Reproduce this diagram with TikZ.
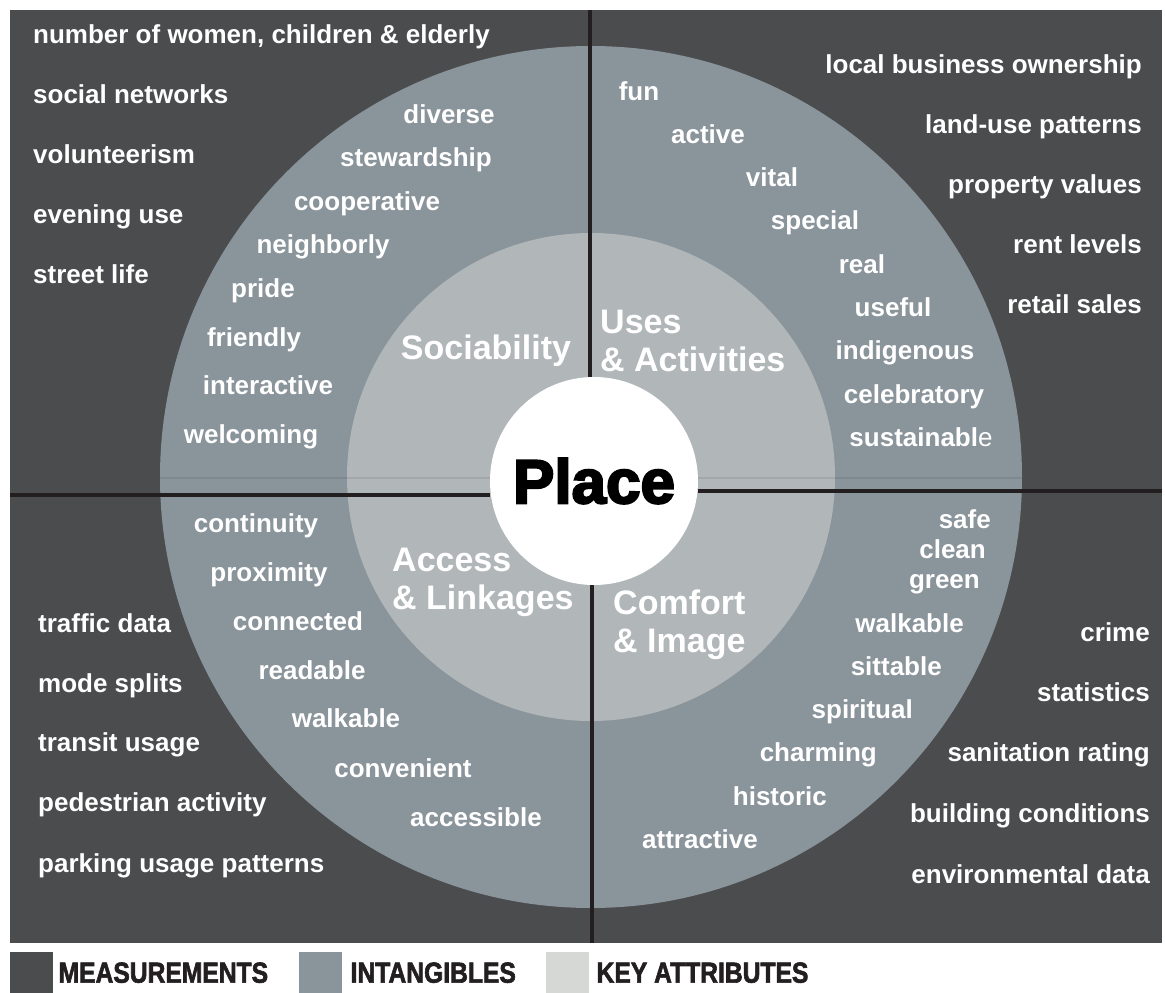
\documentclass[tikz,border=0pt]{standalone}
\usepackage{fontspec}
\setmainfont{Liberation Sans}
\newfontfamily\legendfont{Liberation Sans}[FakeStretch=0.85,FakeBold=2]
\newfontfamily\placefont{Liberation Sans}[FakeBold=3.5]
\usetikzlibrary{positioning}

\definecolor{measure}{HTML}{4B4C4E}
\definecolor{intang}{HTML}{8A949B}
\definecolor{keyattr}{HTML}{B1B6B9}
\definecolor{keylegend}{HTML}{D5D8D5}
\definecolor{divider}{HTML}{231F20}

\begin{document}
\begin{tikzpicture}[x=1pt,y=-1pt,
    word/.style={text=white, inner sep=0, text height=18, text depth=6,
        font=\bfseries\fontsize{26}{30}\selectfont},
    attr/.style={text=white, inner sep=0, align=left,
        font=\bfseries\fontsize{34}{38}\selectfont},
    divline/.style={draw=divider, line width=4},
    legendbox/.style={minimum width=43, minimum height=41, inner sep=0},
    legendtext/.style={inner sep=0, text=divider,
        font=\legendfont\bfseries\fontsize{29}{29}\selectfont}]

    \useasboundingbox (0,0) rectangle (1165,993);
    \fill[white] (0,0) rectangle (1165,993);
    \fill[measure] (10,10) rectangle (1162,943);

    % rings
    \fill[intang] (591,477) circle (431);
    \fill[keyattr] (591,477) circle (244);
    \draw[black, opacity=0.08, line width=1.2] (160,478) -- (1022,478);

    \node[circle, fill=white, minimum size=208, inner sep=0,
        font=\placefont\bfseries\fontsize{62}{62}\selectfont] (place) at (594,481) {Place};

    % dividers
    \coordinate (topEnd) at (590,10);
    \coordinate (bottomEnd) at (592,943);
    \coordinate (leftEnd) at (10,495);
    \coordinate (rightEnd) at (1162,491);
    \draw[divline] (topEnd) -- (topEnd |- place.north);
    \draw[divline] (bottomEnd |- place.south) -- (bottomEnd);
    \draw[divline] (leftEnd) -- (leftEnd -| place.west);
    \draw[divline] (place.east |- rightEnd) -- (rightEnd);

    % key attributes
    \node[attr] (soc) at (486,351) {Sociability};
    \node[attr, anchor=west] (uses) at (600,341) {Uses\\\& Activities};
    \node[attr, anchor=west] (access) at (392,582) {Access\\\& Linkages};
    \node[attr, anchor=west] (comfort) at (613,625) {Comfort\\\& Image};

    % sociability
    \node[word, anchor=west] (socM1) at (33,37) {number of women, children \& elderly};
    \node[word, anchor=west] (socM2) at (33,97) {social networks};
    \node[word, anchor=west] (socM3) at (33,157) {volunteerism};
    \node[word, anchor=west] (socM4) at (33,217) {evening use};
    \node[word, anchor=west] (socM5) at (33,277) {street life};

    \node[word] (socI1) at (449,117) {diverse};
    \node[word] (socI2) at (416,160) {stewardship};
    \node[word] (socI3) at (367,204) {cooperative};
    \node[word] (socI4) at (323,247) {neighborly};
    \node[word] (socI5) at (263,291) {pride};
    \node[word] (socI6) at (254,340) {friendly};
    \node[word] (socI7) at (268,388) {interactive};
    \node[word] (socI8) at (251,437) {welcoming};

    % uses & activities
    \node[word, anchor=east] (useM1) at (1142,67) {local business ownership};
    \node[word, anchor=east] (useM2) at (1142,127) {land-use patterns};
    \node[word, anchor=east] (useM3) at (1142,187) {property values};
    \node[word, anchor=east] (useM4) at (1142,247) {rent levels};
    \node[word, anchor=east] (useM5) at (1142,307) {retail sales};

    \node[word] (useI1) at (639,94) {fun};
    \node[word] (useI2) at (708,137) {active};
    \node[word] (useI3) at (772,180) {vital};
    \node[word] (useI4) at (815,223) {special};
    \node[word] (useI5) at (862,267) {real};
    \node[word] (useI6) at (893,310) {useful};
    \node[word] (useI7) at (905,353) {indigenous};
    \node[word] (useI8) at (914,397) {celebratory};
    \node[word] (useI9) at (921,440) {sustainabl{\mdseries e}};

    % access & linkages
    \node[word, anchor=west] (accM1) at (38,626) {traffic data};
    \node[word, anchor=west] (accM2) at (38,686) {mode splits};
    \node[word, anchor=west] (accM3) at (38,745) {transit usage};
    \node[word, anchor=west] (accM4) at (38,805) {pedestrian activity};
    \node[word, anchor=west] (accM5) at (38,866) {parking usage patterns};

    \node[word] (accI1) at (256,526) {continuity};
    \node[word] (accI2) at (269,575) {proximity};
    \node[word] (accI3) at (298,624) {connected};
    \node[word] (accI4) at (312,673) {readable};
    \node[word] (accI5) at (346,721) {walkable};
    \node[word] (accI6) at (403,771) {convenient};
    \node[word] (accI7) at (476,820) {accessible};

    % comfort & image
    \node[word, anchor=east] (comM1) at (1150,635) {crime};
    \node[word, anchor=east] (comM2) at (1150,695) {statistics};
    \node[word, anchor=east] (comM3) at (1150,755) {sanitation rating};
    \node[word, anchor=east] (comM4) at (1150,816) {building conditions};
    \node[word, anchor=east] (comM5) at (1150,877) {environmental data};

    \node[word, anchor=east] (comI1) at (991,522) {safe};
    \node[word, anchor=east] (comI2) at (986,552) {clean};
    \node[word, anchor=east] (comI3) at (980,582) {green};
    \node[word, anchor=east] (comI4) at (964,626) {walkable};
    \node[word, anchor=east] (comI5) at (942,669) {sittable};
    \node[word, anchor=east] (comI6) at (913,712) {spiritual};
    \node[word, anchor=east] (comI7) at (877,755) {charming};
    \node[word, anchor=east] (comI8) at (827,799) {historic};
    \node[word, anchor=east] (comI9) at (758,842) {attractive};

    % legend
    \node[legendbox, fill=measure, anchor=north west] (boxMeas) at (10,952) {};
    \node[legendtext, right=5pt of boxMeas] (txtMeas) {MEASUREMENTS};
    \node[legendbox, fill=intang, anchor=north west] (boxIntang) at (299,952) {};
    \node[legendtext, right=8pt of boxIntang] (txtIntang) {INTANGIBLES};
    \node[legendbox, fill=keylegend, anchor=north west] (boxKey) at (546,952) {};
    \node[legendtext, right=7pt of boxKey] (txtKey) {KEY ATTRIBUTES};
\end{tikzpicture}
\end{document}
